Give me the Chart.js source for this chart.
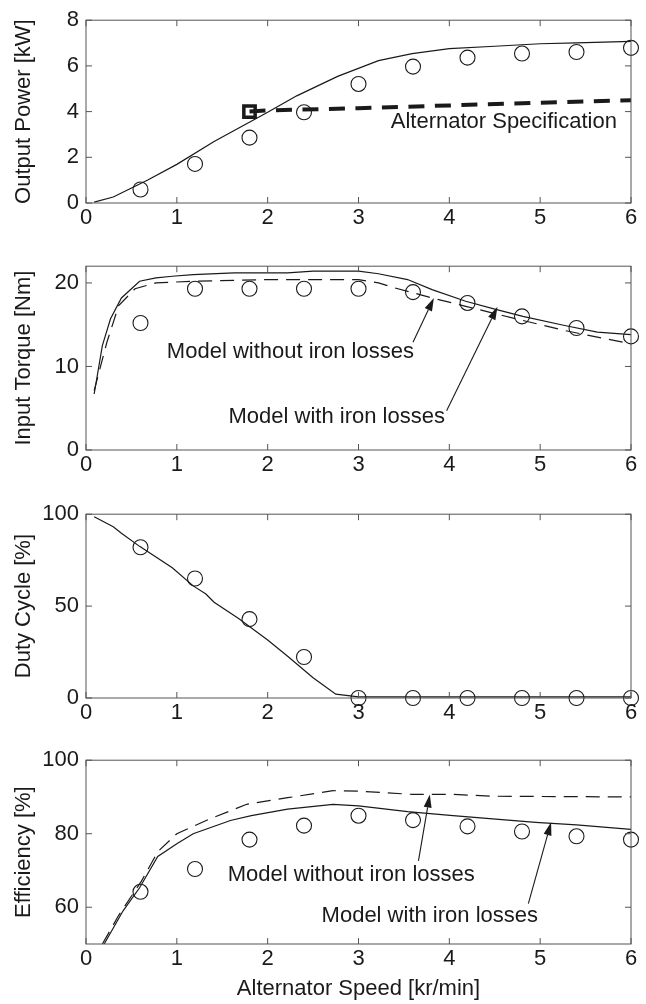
<!DOCTYPE html>
<html>
<head>
<meta charset="utf-8">
<script src="https://cdn.jsdelivr.net/npm/chart.js@4.4.1/dist/chart.umd.min.js"></script>
<style>
  html, body { margin: 0; padding: 0; background: #fff; }
  #wrap { position: relative; width: 646px; height: 1004px; }
  .panel { position: absolute; left: 0; width: 646px; }
</style>
</head>
<body>
<div id="wrap">
  <div class="panel" style="top:0;height:246px"><canvas id="power"></canvas></div>
  <div class="panel" style="top:246px;height:248px"><canvas id="torque"></canvas></div>
  <div class="panel" style="top:494px;height:246px"><canvas id="duty"></canvas></div>
  <div class="panel" style="top:740px;height:264px"><canvas id="eff"></canvas></div>
</div>
<script>
// measured points (circles)
const measSpeed = [0.6, 1.2, 1.8, 2.4, 3.0, 3.6, 4.2, 4.8, 5.4, 6.0];
const powerMeas = [0.59, 1.71, 2.86, 3.97, 5.21, 5.97, 6.36, 6.54, 6.61, 6.79];
const torqueMeas = [15.2, 19.3, 19.3, 19.3, 19.3, 18.9, 17.6, 16.0, 14.6, 13.6];
const dutyMeas = [82, 65, 42.9, 22.3, 0, 0, 0, 0, 0, 0];
const effMeas = [64.2, 70.4, 78.4, 82.2, 84.9, 83.7, 82.0, 80.6, 79.3, 78.4];

// model curves
const powerModelX = [0.09, 0.3, 0.68, 1.0, 1.41, 2.0, 2.32, 2.77, 3.22, 3.59, 4.0, 4.5, 5.0, 5.4, 6.0];
const powerModelY = [0.04, 0.26, 1.01, 1.69, 2.69, 3.97, 4.69, 5.54, 6.23, 6.54, 6.76, 6.86, 6.97, 7.01, 7.07];
const specX = [1.8, 2.0, 3.0, 4.0, 5.0, 6.0];
const specY = [4.0, 4.05, 4.15, 4.27, 4.39, 4.5];

const torqueIronX = [0.09, 0.18, 0.27, 0.39, 0.59, 0.77, 0.95, 1.18, 1.63, 2.22, 2.5, 3.0, 3.22, 3.54, 3.81, 4.18, 4.49, 4.81, 5.27, 5.63, 6.0];
const torqueIronY = [6.7, 12.5, 15.7, 18.2, 20.2, 20.6, 20.8, 21.0, 21.2, 21.2, 21.4, 21.4, 21.1, 20.4, 19.2, 17.8, 16.9, 16.0, 14.9, 14.1, 13.8];
const torqueNoIronX = [0.09, 0.23, 0.36, 0.54, 0.77, 1.18, 2.0, 3.0, 3.22, 3.4, 3.81, 4.18, 4.81, 5.27, 6.0];
const torqueNoIronY = [7.1, 12.9, 17.3, 19.3, 20.0, 20.2, 20.4, 20.4, 20.0, 19.4, 18.2, 17.2, 15.5, 14.3, 12.7];

const dutyModelX = [0.09, 0.3, 0.39, 0.59, 0.95, 1.18, 1.32, 1.41, 1.68, 2.0, 2.22, 2.5, 2.75, 3.0, 6.0];
const dutyModelY = [98.6, 93.2, 89.6, 82.5, 70.9, 61, 56.6, 52.1, 43.2, 31.6, 22.7, 11, 2.1, 0.6, 0.6];

const effIronX = [0.2, 0.41, 0.59, 0.79, 1.0, 1.18, 1.59, 1.82, 2.22, 2.72, 3.0, 3.54, 4.04, 4.95, 5.4, 6.0];
const effIronY = [50.0, 59.1, 65.3, 73.8, 77.3, 80.0, 83.6, 84.9, 86.7, 88.0, 87.6, 86.0, 84.9, 83.1, 82.4, 81.2];
const effNoIronX = [0.18, 0.36, 0.61, 0.79, 1.0, 1.36, 1.77, 2.22, 2.72, 3.0, 3.59, 4.04, 4.49, 6.0];
const effNoIronY = [50, 57.8, 67.1, 75.1, 80, 84, 88, 89.8, 91.7, 91.6, 90.7, 90.7, 90.2, 90.0];

// ticks
const speedTicks = [0, 1, 2, 3, 4, 5, 6];
const powerTicks = [0, 2, 4, 6, 8];
const torqueTicks = [0, 10, 20];
const dutyTicks = [0, 50, 100];
const effTicks = [60, 80, 100];

const INK = '#1a1a1a';
const FONT = '"Liberation Sans", Arial, sans-serif';
Chart.defaults.font.family = FONT;
Chart.defaults.font.size = 22;
Chart.defaults.color = INK;

function pts(xs, ys) { return xs.map((x, i) => ({ x: x, y: ys[i] })); }

const circles = (ys) => ({
  data: pts(measSpeed, ys), showLine: false, clip: false,
  pointRadius: 7.5, pointBorderWidth: 1.1, pointBorderColor: INK,
  pointBackgroundColor: 'rgba(0,0,0,0)'
});
const solid = (xs, ys) => ({
  data: pts(xs, ys), showLine: true, pointRadius: 0,
  borderColor: INK, borderWidth: 1.2, tension: 0
});
const dashed = (xs, ys) => Object.assign(solid(xs, ys), { borderDash: [14, 8] });

// box, inward ticks and annotations
const frame = {
  id: 'frame',
  afterDatasetsDraw(chart, args, opts) {
    const { ctx, chartArea: a, scales: { x, y } } = chart;
    ctx.save();
    ctx.strokeStyle = '#555';
    ctx.lineWidth = 1;
    ctx.strokeRect(a.left, a.top, a.right - a.left, a.bottom - a.top);
    ctx.beginPath();
    x.ticks.forEach(t => {
      const px = x.getPixelForValue(t.value);
      ctx.moveTo(px, a.bottom); ctx.lineTo(px, a.bottom - 6);
      ctx.moveTo(px, a.top); ctx.lineTo(px, a.top + 6);
    });
    y.ticks.forEach(t => {
      const py = y.getPixelForValue(t.value);
      ctx.moveTo(a.left, py); ctx.lineTo(a.left + 6, py);
      ctx.moveTo(a.right, py); ctx.lineTo(a.right - 6, py);
    });
    ctx.stroke();

    ctx.fillStyle = INK;
    ctx.strokeStyle = INK;
    ctx.font = '22px ' + FONT;
    ctx.textAlign = 'center';
    ctx.textBaseline = 'middle';
    (opts.notes || []).forEach(n => {
      ctx.fillText(n.text, x.getPixelForValue(n.x), y.getPixelForValue(n.y));
      if (!n.from) return;
      const x0 = x.getPixelForValue(n.from[0]), y0 = y.getPixelForValue(n.from[1]);
      const x1 = x.getPixelForValue(n.to[0]), y1 = y.getPixelForValue(n.to[1]);
      const ang = Math.atan2(y1 - y0, x1 - x0);
      const hl = 13, hw = 4;
      ctx.lineWidth = 1.1;
      ctx.beginPath();
      ctx.moveTo(x0, y0);
      ctx.lineTo(x1 - hl * Math.cos(ang), y1 - hl * Math.sin(ang));
      ctx.stroke();
      ctx.beginPath();
      ctx.moveTo(x1, y1);
      ctx.lineTo(x1 - hl * Math.cos(ang) - hw * Math.sin(ang), y1 - hl * Math.sin(ang) + hw * Math.cos(ang));
      ctx.lineTo(x1 - hl * Math.cos(ang) + hw * Math.sin(ang), y1 - hl * Math.sin(ang) - hw * Math.cos(ang));
      ctx.closePath();
      ctx.fill();
    });
    ctx.restore();
  }
};

function makeChart(id, cfg) {
  return new Chart(document.getElementById(id), {
    type: 'scatter',
    data: { datasets: cfg.datasets },
    options: {
      responsive: true,
      maintainAspectRatio: false,
      animation: false,
      layout: { padding: { top: cfg.padTop, right: 15, left: 0, bottom: 0 } },
      plugins: {
        legend: { display: false },
        tooltip: { enabled: false },
        frame: { notes: cfg.notes || [] }
      },
      scales: {
        x: {
          type: 'linear', min: 0, max: 6,
          afterBuildTicks: s => { s.ticks = speedTicks.map(v => ({ value: v })); },
          afterFit: s => { s.height = cfg.xh; },
          grid: { display: false, drawTicks: false },
          border: { display: false },
          ticks: { padding: 2, autoSkip: false, maxRotation: 0 },
          title: cfg.xTitle
            ? { display: true, text: cfg.xTitle, padding: { top: 0, bottom: 2 } }
            : { display: false }
        },
        y: {
          type: 'linear', min: cfg.yMin, max: cfg.yMax,
          afterBuildTicks: s => { s.ticks = cfg.yTicks.map(v => ({ value: v })); },
          afterFit: s => { s.width = 86; },
          grid: { display: false, drawTicks: false },
          border: { display: false },
          ticks: { padding: 7 },
          title: { display: true, text: cfg.yTitle, padding: { top: 11, bottom: 0 } }
        }
      }
    },
    plugins: [frame]
  });
}

makeChart('power', {
  padTop: 16, xh: 43, yMin: 0, yMax: 8, yTicks: powerTicks,
  yTitle: 'Output Power [kW]',
  datasets: [
    solid(powerModelX, powerModelY),
    Object.assign(solid(specX, specY), { borderWidth: 4, borderDash: [16, 10.5], borderCapStyle: 'butt' }),
    {
      data: pts([specX[0]], [specY[0]]), showLine: false, clip: false,
      pointStyle: 'rect', pointRadius: 8, pointBorderWidth: 3.5,
      pointBorderColor: INK, pointBackgroundColor: 'rgba(0,0,0,0)'
    },
    circles(powerMeas)
  ],
  notes: [{ text: 'Alternator Specification', x: 4.6, y: 3.55 }]
});

makeChart('torque', {
  padTop: 17, xh: 44, yMin: 0, yMax: 22, yTicks: torqueTicks,
  yTitle: 'Input Torque [Nm]',
  datasets: [
    solid(torqueIronX, torqueIronY),
    dashed(torqueNoIronX, torqueNoIronY),
    circles(torqueMeas)
  ],
  notes: [
    { text: 'Model without iron losses', x: 2.25, y: 11.75, from: [3.6, 12.9], to: [3.83, 18.2] },
    { text: 'Model with iron losses', x: 2.76, y: 3.9, from: [3.97, 4.7], to: [4.53, 17.15] }
  ]
});

makeChart('duty', {
  padTop: 17, xh: 42, yMin: 0, yMax: 100, yTicks: dutyTicks,
  yTitle: 'Duty Cycle [%]',
  datasets: [
    solid(dutyModelX, dutyModelY),
    circles(dutyMeas)
  ]
});

makeChart('eff', {
  padTop: 17, xh: 60, yMin: 50, yMax: 100, yTicks: effTicks,
  yTitle: 'Efficiency [%]', xTitle: 'Alternator Speed [kr/min]',
  datasets: [
    solid(effIronX, effIronY),
    dashed(effNoIronX, effNoIronY),
    circles(effMeas)
  ],
  notes: [
    { text: 'Model without iron losses', x: 2.92, y: 68.9, from: [3.66, 72.6], to: [3.785, 90.65] },
    { text: 'Model with iron losses', x: 3.785, y: 57.7, from: [4.87, 61.0], to: [5.12, 83.1] }
  ]
});
</script>
</body>
</html>
